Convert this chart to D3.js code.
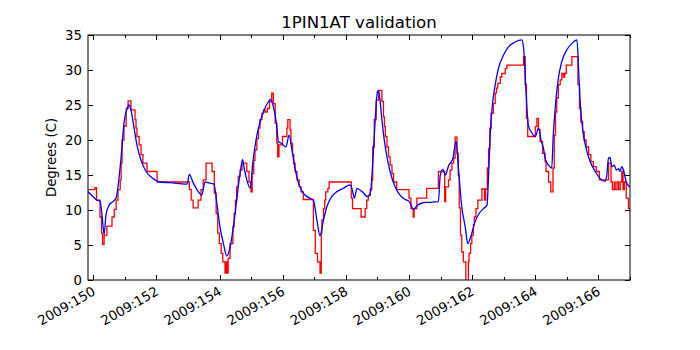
<!DOCTYPE html>
<html><head><meta charset="utf-8">
<script src="https://cdn.jsdelivr.net/npm/d3@7"></script>
<style>body{margin:0;background:#fff}svg{display:block}text{font-family:"DejaVu Sans",sans-serif;fill:#000}</style>
</head><body>
<script>
const chartTitle = "1PIN1AT validation";
const yLabel = "Degrees (C)";
const xTickDays = [150,152,154,156,158,160,162,164,166];
const xTickLabels = ["2009:150","2009:152","2009:154","2009:156","2009:158","2009:160","2009:162","2009:164","2009:166"];
const yTicks = [0,5,10,15,20,25,30,35];
const xDomain = [149.83, 167.0];
const yDomain = [0, 35];

// Red (observed, stepped) series
const redDays = [149.83,150.05,150.10,150.21,150.26,150.29,150.34,150.43,150.59,150.66,150.72,150.78,150.85,150.88,150.91,150.97,151.04,151.10,151.19,151.32,151.35,151.38,151.45,151.51,151.57,151.70,152.02,
153.04,153.10,153.16,153.32,153.41,153.48,153.57,153.76,153.83,153.89,153.94,153.99,154.05,154.10,154.17,154.20,154.24,154.27,154.33,154.42,154.46,154.50,154.54,154.59,154.65,154.71,154.86,154.93,154.99,155.03,155.08,155.12,155.18,155.23,155.28,155.34,155.39,155.44,155.51,155.58,155.65,155.70,155.76,155.81,155.84,155.88,155.99,156.13,156.16,156.23,156.26,156.31,156.35,156.39,156.45,156.52,156.58,156.65,
156.97,157.03,157.10,157.18,157.22,157.24,157.29,157.33,157.36,157.43,157.47,158.17,158.21,158.48,158.61,158.66,158.71,158.77,158.82,158.85,158.90,158.96,159.04,159.14,159.19,159.22,159.25,159.30,159.35,159.40,159.46,159.51,159.61,
160.00,160.06,160.13,160.16,160.25,160.56,160.93,161.13,161.16,161.25,161.30,161.36,161.41,161.46,161.52,161.56,161.59,161.63,161.67,161.72,161.80,161.88,161.90,161.95,161.99,162.04,162.07,162.12,162.18,162.31,162.39,162.43,162.48,162.52,162.56,162.60,162.67,162.73,162.77,162.81,162.89,162.94,163.05,163.10,163.63,163.68,163.72,163.76,
164.00,164.05,164.10,164.15,164.23,164.31,164.34,164.42,164.49,164.56,164.60,164.64,164.68,164.73,164.79,164.84,164.89,164.93,164.98,165.16,165.35,165.40,165.44,165.50,165.55,165.61,165.69,165.76,165.84,165.93,166.03,166.32,166.40,166.44,166.50,166.53,166.59,166.64,166.69,166.74,166.78,166.82,166.88,166.95,167.0];
const redTemps = [12.9,13.2,11.4,9.0,6.7,5.1,6.4,7.7,9.0,10.1,11.4,12.9,14.3,16.7,20.0,22.0,24.5,25.6,24.3,22.9,21.7,20.5,19.3,17.9,16.7,15.5,14.0,
12.9,11.4,10.3,11.4,12.9,14.3,16.7,15.5,12.4,9.5,6.7,5.2,3.8,2.6,1.0,2.6,1.0,3.1,5.2,7.6,9.5,11.4,13.3,14.8,15.7,16.7,15.5,14.0,12.6,15.2,17.1,18.6,20.2,21.7,22.9,23.8,24.3,24.0,24.5,25.5,26.7,25.2,22.4,19.6,17.6,19.3,20.5,21.7,22.9,21.4,19.5,17.9,16.7,15.5,14.3,13.3,12.6,11.5,
7.1,3.8,2.6,1.0,6.7,8.6,10.2,11.4,12.6,13.1,14.0,11.7,10.2,9.0,10.2,11.4,12.1,12.9,14.3,19.0,22.9,25.7,27.1,25.5,23.3,21.9,20.5,19.0,17.6,16.4,15.2,14.0,12.9,
11.7,10.2,9.0,10.2,11.7,13.1,15.5,11.2,13.3,14.3,15.7,16.7,17.4,20.4,18.1,15.0,10.3,6.4,4.0,2.6,-0.8,2.6,3.8,5.2,6.4,7.9,9.0,10.2,11.4,13.0,11.4,13.0,16.0,18.8,21.7,23.8,25.2,26.7,27.4,28.1,29.0,29.5,30.2,30.7,31.9,27.9,23.1,20.5,
21.9,23.1,21.5,19.8,18.1,16.9,15.5,14.0,12.6,16.0,20.7,24.0,26.0,27.9,28.6,29.5,29.0,29.5,30.7,31.9,27.9,24.5,22.6,21.2,20.0,19.0,17.9,16.9,16.2,15.5,14.3,16.7,14.0,12.9,14.0,12.9,14.0,12.9,14.0,15.5,12.9,14.0,11.7,10.2,10.2];

// Blue (model, smooth) series
const blueDays = [149.83,149.99,150.12,150.21,150.28,150.34,150.40,150.50,150.62,150.72,150.78,150.88,150.97,151.07,151.13,151.19,151.29,151.38,151.51,151.67,151.86,152.11,152.43,152.97,153.04,153.17,153.33,153.43,153.54,153.63,153.82,153.91,154.01,154.12,154.23,154.31,154.39,154.49,154.59,154.68,154.73,154.78,154.86,154.97,155.05,155.16,155.28,155.41,155.55,155.60,155.70,155.81,155.86,155.97,156.10,156.20,156.29,156.39,156.50,156.65,156.81,156.97,157.08,157.18,157.29,157.40,157.55,157.71,157.92,158.13,158.19,158.27,158.35,158.52,158.69,158.77,158.80,158.85,158.93,159.00,159.03,159.08,159.14,159.21,159.30,159.40,159.56,159.72,159.88,160.01,160.14,160.25,160.41,160.62,160.93,160.99,161.07,161.15,161.25,161.39,161.49,161.57,161.67,161.78,161.86,161.97,162.09,162.22,162.36,162.47,162.52,162.57,162.64,162.73,162.83,162.99,163.15,163.36,163.57,163.63,163.70,163.78,163.89,164.00,164.10,164.19,164.26,164.31,164.42,164.52,164.57,164.63,164.73,164.84,165.00,165.16,165.32,165.37,165.42,165.51,165.61,165.74,165.90,166.05,166.21,166.26,166.32,166.37,166.42,166.50,166.57,166.64,166.68,166.74,166.80,166.88,166.99];
const blueTemps = [12.6,11.9,11.4,11.3,9.0,6.5,9.3,10.7,11.2,11.7,13.3,17.6,22.4,24.5,25.0,24.3,21.7,19.3,17.1,15.5,14.6,14.0,13.9,13.7,15.1,13.8,12.6,12.1,14.0,13.9,13.7,11.0,7.6,5.2,3.4,4.3,6.2,9.5,13.3,16.2,17.2,15.9,14.3,13.1,16.7,20.2,22.6,24.3,25.5,25.8,24.8,22.0,19.8,19.5,19.0,20.7,18.6,15.9,13.8,12.4,11.8,11.4,8.6,6.3,8.6,10.5,11.9,12.6,13.1,13.6,13.1,11.7,13.1,12.6,11.9,12.4,13.3,16.7,23.0,26.9,27.1,25.7,22.9,20.2,17.6,15.5,13.3,12.1,11.5,11.2,10.1,10.6,11.0,11.1,11.2,15.0,15.8,15.0,16.3,17.4,19.8,15.7,10.5,7.6,5.2,6.4,8.3,9.5,10.2,10.7,15.0,20.7,25.0,27.9,30.2,32.1,33.3,34.0,34.3,33.1,27.4,22.1,21.0,20.5,21.7,19.8,18.8,17.4,16.4,16.0,20.7,24.5,28.8,31.2,32.9,33.8,34.3,30.2,25.5,21.2,18.8,16.9,15.5,14.5,14.1,14.8,17.4,17.5,16.2,16.4,15.7,15.9,15.5,16.2,15.6,14.0,13.3];

const W = 700, H = 350;
const m = {left: 88, right: 70, top: 35, bottom: 70};
const pw = W - m.left - m.right, ph = H - m.top - m.bottom;

const svg = d3.select("body").append("svg").attr("width", W).attr("height", H);
const x = d3.scaleLinear().domain(xDomain).range([0, pw]);
const y = d3.scaleLinear().domain(yDomain).range([ph, 0]);

const g = svg.append("g").attr("transform", `translate(${m.left},${m.top})`);
g.append("clipPath").attr("id", "clip").append("rect").attr("width", pw).attr("height", ph);

const red = redDays.map((d, i) => [d, redTemps[i]]);
const blue = blueDays.map((d, i) => [d, blueTemps[i]]);

const plot = g.append("g").attr("clip-path", "url(#clip)");
plot.append("path").datum(red).attr("fill", "none").attr("stroke", "#ff0000").attr("stroke-width", 1.3)
  .attr("d", d3.line().x(d => x(d[0])).y(d => y(d[1])).curve(d3.curveStepAfter));
plot.append("path").datum(blue).attr("fill", "none").attr("stroke", "#0000ff").attr("stroke-width", 1.3)
  .attr("d", d3.line().x(d => x(d[0])).y(d => y(d[1])).curve(d3.curveMonotoneX));

// frame
g.append("rect").attr("width", pw).attr("height", ph).attr("fill", "none").attr("stroke", "#000").attr("stroke-width", 1);

// ticks (inward, both sides)
const minorDays = d3.range(150, 167.01, 1);
const tk = g.append("g").attr("stroke", "#000").attr("stroke-width", 1);
minorDays.forEach(d => {
  const len = (d % 2 === 0) ? 5 : 3;
  const xx = Math.round(x(d)) + 0.5;
  tk.append("line").attr("x1", xx).attr("x2", xx).attr("y1", ph).attr("y2", ph - len);
  tk.append("line").attr("x1", xx).attr("x2", xx).attr("y1", 0).attr("y2", len);
});
yTicks.forEach(v => {
  const yy = Math.round(y(v)) + 0.5;
  tk.append("line").attr("x1", 0).attr("x2", 5).attr("y1", yy).attr("y2", yy);
  tk.append("line").attr("x1", pw).attr("x2", pw - 5).attr("y1", yy).attr("y2", yy);
});

// y tick labels
yTicks.forEach(v => {
  g.append("text").attr("x", -6).attr("y", y(v)).attr("dy", "0.36em")
    .attr("text-anchor", "end").attr("font-size", 13.3).text(v);
});

// x tick labels rotated
xTickDays.forEach((d, i) => {
  g.append("text").attr("transform", `translate(${x(d) + 3},${ph + 14}) rotate(-30)`)
    .attr("text-anchor", "end").attr("font-size", 13.3).text(xTickLabels[i]);
});

// title
svg.append("text").attr("x", m.left + pw / 2).attr("y", 28).attr("text-anchor", "middle")
  .attr("font-size", 16.6).text(chartTitle);
// y label
svg.append("text").attr("transform", `translate(56,${m.top + ph / 2}) rotate(-90)`)
  .attr("text-anchor", "middle").attr("font-size", 13.3).text(yLabel);
</script>
</body></html>
